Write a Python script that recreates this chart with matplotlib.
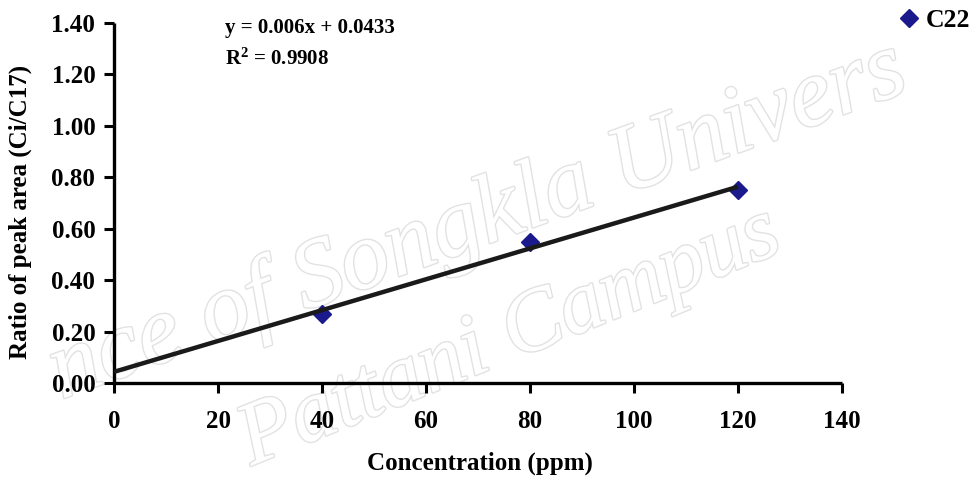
import numpy as np
import matplotlib.pyplot as plt
import matplotlib.patheffects as pe

# calibration points for C22
conc = [40, 80, 120]
ratio = [0.27, 0.55, 0.75]
series_name = "C22"

x_ticks = [0, 20, 40, 60, 80, 100, 120, 140]
y_ticks = [0.0, 0.2, 0.4, 0.6, 0.8, 1.0, 1.2, 1.4]

plt.rcParams["font.family"] = ["Liberation Serif", "DejaVu Serif"]
plt.rcParams["font.weight"] = "bold"
plt.rcParams["mathtext.default"] = "regular"

fig = plt.figure(figsize=(9.73, 4.84), dpi=100)
ax = fig.add_axes([0.1172, 0.2087, 0.7482, 0.7438])
ax.patch.set_visible(False)

# faint background stamp, drawn beneath the axes
stamp = dict(color="white", style="italic", weight="normal",
             ha="center", va="center", zorder=-1,
             path_effects=[pe.withStroke(linewidth=2.0, foreground="#e2e2e2")])
fig.text(478 / 973, 1 - 222 / 484, "nce of Songkla Univers",
         rotation=20, fontsize=70, **stamp)
fig.text(510 / 973, 1 - 338 / 484, "Pattani Campus",
         rotation=22, fontsize=64, **stamp)

# least squares trendline from x = 0 to the last point
slope, intercept = np.polyfit(conc, ratio, 1)
pred = slope * np.array(conc) + intercept
r2 = 1 - np.sum((np.array(ratio) - pred) ** 2) / np.sum((np.array(ratio) - np.mean(ratio)) ** 2)
xs = np.array([0, max(conc)])

ax.plot(conc, ratio, linestyle="none", marker="D", markersize=9,
        color="#1a1a8c", label=series_name, zorder=3)
ax.plot(xs, slope * xs + intercept, color="#1a1a1a", linewidth=3.2,
        solid_capstyle="butt", zorder=4)

ax.set_xlim(0, 140)
ax.set_ylim(0, 1.4)
ax.set_xticks(x_ticks)
ax.set_yticks(y_ticks)
ax.set_xticklabels([str(v) for v in x_ticks])
ax.set_yticklabels([f"{v:.2f}" for v in y_ticks])
ax.tick_params(direction="out", length=7.5, width=2.2, labelsize=18, color="black")
ax.tick_params(axis="x", pad=12)
ax.tick_params(axis="y", pad=6)
for side in ("top", "right"):
    ax.spines[side].set_visible(False)
for side in ("left", "bottom"):
    ax.spines[side].set_linewidth(2.4)
    ax.spines[side].set_capstyle("butt")

fig.text(480 / 973, 1 - 470 / 484, "Concentration (ppm)", fontsize=18,
         ha="center", va="baseline")
fig.text(20 / 973, 1 - 212 / 484, "Ratio of peak area (Ci/C17)", fontsize=18,
         rotation=90, ha="center", va="center")

fig.text(225 / 973, 1 - 33 / 484, f"y = {slope:.3f}x + {intercept:.4f}",
         fontsize=15, ha="left", va="baseline")
fig.text(225 / 973, 1 - 65 / 484, f"R$^{{2}}$ = {r2:.4f}",
         fontsize=15, ha="left", va="baseline")

ax.legend(loc="upper left", bbox_to_anchor=(901 / 973, 1 - 9 / 484),
          bbox_transform=fig.transFigure, frameon=False, fontsize=18.5,
          handlelength=0.6, handletextpad=0.35, borderaxespad=0, borderpad=0)

fig.savefig("out.png", dpi=100)
